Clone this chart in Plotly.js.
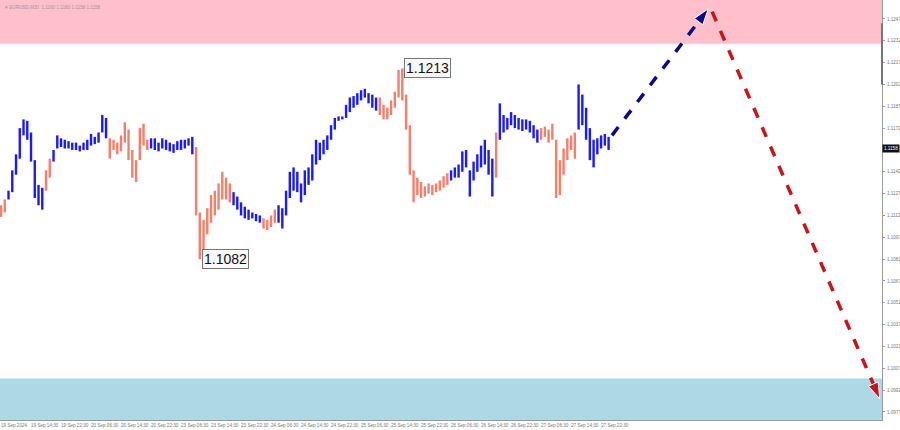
<!DOCTYPE html>
<html>
<head>
<meta charset="utf-8">
<script src="https://cdn.plot.ly/plotly-3.0.1.min.js"></script>
<style>html,body{margin:0;padding:0;background:#fff;}#chart{width:900px;height:430px;}</style>
</head>
<body>
<div id="chart"></div>
<script>
// EURUSD bars (one bar per hour)
const barHigh = [1.1119,1.1123,1.1129,1.1143,1.1154,1.1172,1.1178,1.1177,1.1169,1.1150,
1.1133,1.1131,1.1143,1.1151,1.1157,1.1167,1.1165,1.1164,1.1163,1.1162,
1.1162,1.1160,1.1162,1.1164,1.1168,1.1166,1.1169,1.1181,1.1179,1.1165,
1.1164,1.1162,1.1167,1.1176,1.1171,1.1157,1.1150,1.1172,1.1175,1.1164,
1.1165,1.1165,1.1162,1.1165,1.1164,1.1162,1.1161,1.1163,1.1164,1.1164,
1.1165,1.1166,1.1159,1.1114,1.1109,1.1117,1.1126,1.1129,1.1134,1.1142,
1.1138,1.1134,1.1128,1.1125,1.1121,1.1118,1.1116,1.1114,1.1113,1.1112,
1.1110,1.1109,1.1112,1.1116,1.1119,1.1117,1.1129,1.1142,1.1145,1.1142,
1.1134,1.1143,1.1145,1.1154,1.1164,1.1162,1.1164,1.1167,1.1174,1.1179,
1.1180,1.1180,1.1188,1.1193,1.1194,1.1196,1.1198,1.1199,1.1196,1.1195,
1.1193,1.1193,1.1188,1.1186,1.1191,1.1197,1.1212,1.1213,1.1195,1.1174,
1.1143,1.1138,1.1135,1.1132,1.1134,1.1133,1.1134,1.1136,1.1139,1.1141,
1.1143,1.1145,1.1147,1.1156,1.1157,1.1143,1.1149,1.1154,1.1160,1.1164,
1.1157,1.1151,1.1169,1.1189,1.1181,1.1179,1.1183,1.1181,1.1179,1.1178,
1.1178,1.1177,1.1174,1.1171,1.1172,1.1173,1.1171,1.1175,1.1164,1.1150,
1.1158,1.1165,1.1167,1.1169,1.1202,1.1195,1.1186,1.1172,1.1164,1.1165,
1.1167,1.1168,1.1166];
const barLow = [1.1111,1.1114,1.1123,1.1128,1.1140,1.1151,1.1167,1.1164,1.1149,1.1124,
1.1119,1.1116,1.1129,1.1138,1.1149,1.1158,1.1159,1.1158,1.1158,1.1157,
1.1157,1.1156,1.1157,1.1157,1.1160,1.1161,1.1162,1.1169,1.1165,1.1151,
1.1157,1.1154,1.1156,1.1162,1.1150,1.1138,1.1135,1.1150,1.1160,1.1157,
1.1158,1.1157,1.1156,1.1158,1.1157,1.1156,1.1155,1.1157,1.1157,1.1158,
1.1160,1.1154,1.1112,1.1082,1.1088,1.1099,1.1107,1.1112,1.1116,1.1123,
1.1123,1.1121,1.1119,1.1116,1.1112,1.1110,1.1109,1.1110,1.1108,1.1107,
1.1103,1.1102,1.1104,1.1107,1.1107,1.1103,1.1112,1.1124,1.1129,1.1128,
1.1121,1.1126,1.1133,1.1136,1.1147,1.1150,1.1154,1.1157,1.1164,1.1171,
1.1177,1.1178,1.1179,1.1183,1.1186,1.1188,1.1191,1.1193,1.1189,1.1186,
1.1184,1.1181,1.1178,1.1178,1.1181,1.1186,1.1193,1.1191,1.1171,1.1140,
1.1121,1.1126,1.1124,1.1125,1.1127,1.1126,1.1128,1.1129,1.1131,1.1133,
1.1136,1.1138,1.1138,1.1142,1.1145,1.1125,1.1136,1.1142,1.1145,1.1147,
1.1140,1.1125,1.1138,1.1164,1.1169,1.1171,1.1174,1.1172,1.1171,1.1170,
1.1171,1.1169,1.1165,1.1162,1.1164,1.1166,1.1162,1.1164,1.1124,1.1126,
1.1140,1.1150,1.1157,1.1151,1.1171,1.1174,1.1164,1.1150,1.1145,1.1154,
1.1158,1.1160,1.1157];
// last bar index of each wave; waves alternate falling (salmon) / rising (blue)
const waveEnds = [1,11,13,28,39,51,61,69,73,100,119,131,132,143,153,162];

const xLabels = ['19 Sep 2024','19 Sep 14:30','19 Sep 22:30','20 Sep 06:30','20 Sep 14:30','20 Sep 22:30',
'23 Sep 06:30','23 Sep 14:30','23 Sep 22:30','24 Sep 06:30','24 Sep 14:30','24 Sep 22:30',
'25 Sep 06:30','25 Sep 14:30','25 Sep 22:30','26 Sep 06:30','26 Sep 14:30','26 Sep 22:30',
'27 Sep 06:30','27 Sep 14:30','27 Sep 22:30'];
const barsPerLabel = 8;

const priceTicks = [1.0977,1.0992,1.1007,1.1022,1.1037,1.1052,1.1067,1.1082,1.1097,1.1112,1.1127,1.1142,1.1172,1.1187,1.1202,1.1217,1.1232,1.1247];
const lastPrice = 1.1158;
const headerText = '\u25BE EURUSD,M30  1.1160 1.1160 1.1158 1.1158';

const resistanceZone = [1.1230, 1.1262];
const supportZone = [1.0968, 1.1000];

const swingLow = {bar: 53, price: 1.1082};
const swingHigh = {bar: 107, price: 1.1213};

const forecastUpX = [162.9, 188.6];
const forecastUpY = [1.1167, 1.1254];
const forecastDownX = [189.6, 234.3];
const forecastDownY = [1.1252, 1.0986];

const BLUE = '#1a1aff', SALMON = '#f47f6b';
const FONT = 'Liberation Sans, Arial';

function waveTrace(color, parity){
  const xs = [], ys = [];
  let start = 0;
  waveEnds.forEach((end, w) => {
    if (w % 2 === parity) {
      for (let i = start; i <= end; i++) { xs.push(i, i, null); ys.push(barHigh[i], barLow[i], null); }
    }
    start = end + 1;
  });
  return {type:'scatter', mode:'lines', x:xs, y:ys, line:{color:color, width:2.4}, hoverinfo:'skip', showlegend:false};
}

function arrowTrace(xs, ys, color, width){
  return {type:'scatter', mode:'lines+markers', x:xs, y:ys,
    line:{color:color, width:width, dash:'dash'},
    marker:{symbol:'arrow', size:[0,17], angleref:'previous', color:color, opacity:[0,1]},
    hoverinfo:'skip', showlegend:false};
}

const traces = [
  waveTrace(SALMON, 0),
  waveTrace(BLUE, 1),
  arrowTrace(forecastUpX, forecastUpY, '#0b0b8a', 3.5),
  arrowTrace(forecastDownX, forecastDownY, '#c8151b', 3.5)
];

const annotations = [];
xLabels.forEach((t, k) => annotations.push({x: k*barsPerLabel, y: 0, xref:'x', yref:'paper', yanchor:'top', xanchor:'left',
  text: t, showarrow:false, font:{size:4.6, color:'#777', family:FONT}, xshift:-2, yshift:-1}));
annotations.push({x:1, xref:'paper', y:lastPrice, yref:'y', xanchor:'left', yanchor:'middle', text:lastPrice.toFixed(4),
  showarrow:false, bgcolor:'#111', font:{size:4.6, color:'#fff', family:FONT}, borderpad:1, xshift:0});
annotations.push({x:0, xref:'paper', y:1, yref:'paper', xanchor:'left', yanchor:'top', text:headerText, showarrow:false,
  font:{size:4.6, color:'#999', family:FONT}, xshift:3, yshift:-3});
[swingLow, swingHigh].forEach(s => annotations.push({x:s.bar, y:s.price, xref:'x', yref:'y', xanchor:'left', yanchor:'middle',
  text:s.price.toFixed(4), showarrow:false, bgcolor:'#fafafa', bordercolor:'#777', borderwidth:1, borderpad:1,
  font:{size:14, color:'#111', family:FONT}, xshift:2}));

const layout = {
  width:900, height:430,
  margin:{l:0, r:18, t:0, b:10},
  paper_bgcolor:'#fff', plot_bgcolor:'#fff',
  showlegend:false,
  xaxis:{range:[-0.27, 234.9], showgrid:false, zeroline:false, showticklabels:false, showline:true, linecolor:'#999', linewidth:1,
    ticks:'', fixedrange:true},
  yaxis:{side:'right', range:[1.09715, 1.1260], tickvals:priceTicks, ticktext:priceTicks.map(v=>v.toFixed(4)),
    ticks:'outside', ticklen:2, tickcolor:'#999', tickfont:{size:4.6, color:'#777', family:FONT}, ticklabelstandoff:1,
    showline:true, linecolor:'#999', linewidth:1, mirror:true, showgrid:false, zeroline:false, fixedrange:true},
  shapes:[
    {type:'rect', xref:'paper', yref:'y', x0:0, x1:1, y0:resistanceZone[0], y1:resistanceZone[1], fillcolor:'#ffc0cb', line:{width:0}, layer:'below'},
    {type:'rect', xref:'paper', yref:'y', x0:0, x1:1, y0:supportZone[0], y1:supportZone[1], fillcolor:'#add8e6', line:{width:0}, layer:'below'},
    {type:'line', xref:'paper', yref:'y', x0:1, x1:1, y0:1.1244, y1:1.1202, line:{color:'#777', width:2}}
  ],
  annotations: annotations
};

Plotly.newPlot('chart', traces, layout, {displayModeBar:false, staticPlot:true});
</script>
</body>
</html>
